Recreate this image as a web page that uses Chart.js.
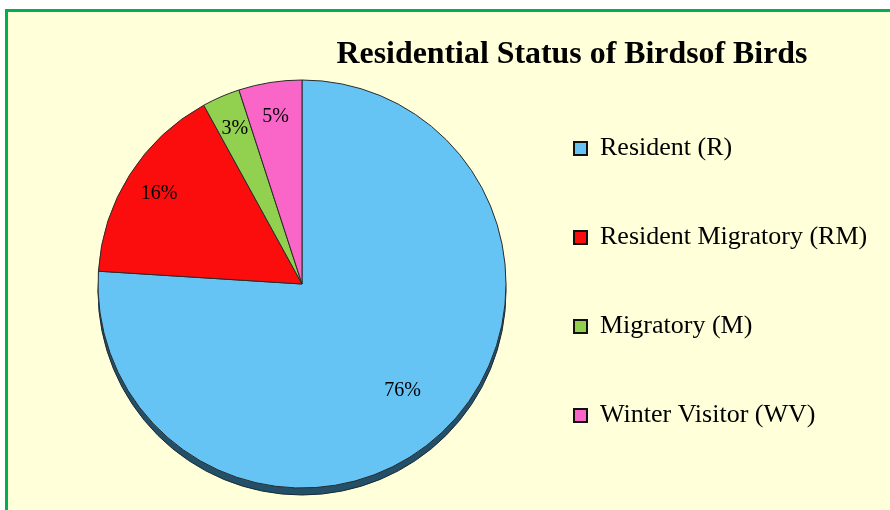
<!DOCTYPE html>
<html>
<head>
<meta charset="utf-8">
<script src="https://cdn.jsdelivr.net/npm/chart.js@4"></script>
<style>
  html, body { margin: 0; padding: 0; background: #fff; overflow: hidden; }
  #frame { position: absolute; left: 5px; top: 9px; width: 900px; height: 520px; border: 3px solid #00b050; background: #ffffd9; box-sizing: border-box; }
  #chart { position: absolute; left: 0; top: 0; }
</style>
</head>
<body>
<div id="frame"></div>
<canvas id="chart" width="890" height="510"></canvas>
<script>
// Chart data
const categories = ['Resident (R)', 'Resident Migratory (RM)', 'Migratory (M)', 'Winter Visitor (WV)'];
const percentages = [76, 16, 3, 5];
const sliceColors = ['#66c4f4', '#fb0d0d', '#92d050', '#f966c8'];
const chartTitle = 'Residential Status of Birdsof Birds';

// Title drawn slightly condensed, like the original
const titlePlugin = {
    id: 'titlePlugin',
    afterDraw(chart) {
        const ctx = chart.ctx;
        ctx.save();
        ctx.font = 'bold 32px "Liberation Serif", "Times New Roman", serif';
        ctx.fillStyle = '#000';
        ctx.textBaseline = 'alphabetic';
        const w = ctx.measureText(chartTitle).width;
        const sx = Math.min(1, 471 / w);
        ctx.translate(572, 63);
        ctx.scale(sx, 1);
        ctx.textAlign = 'center';
        ctx.fillText(chartTitle, 0, 0);
        ctx.restore();
    }
};

// Dark rim under the pie (3D edge look)
const rimPlugin = {
    id: 'rimPlugin',
    beforeDatasetsDraw(chart) {
        const arc = chart.getDatasetMeta(0).data[0];
        if (!arc) return;
        const { x, y, outerRadius } = arc.getProps(['x', 'y', 'outerRadius'], true);
        const ctx = chart.ctx;
        ctx.save();
        ctx.beginPath();
        ctx.arc(x, y + 7, outerRadius, 0, Math.PI * 2);
        ctx.fillStyle = '#244f68';
        ctx.fill();
        ctx.lineWidth = 1;
        ctx.strokeStyle = '#1a2a33';
        ctx.stroke();
        ctx.restore();
    }
};

// Percentage labels inside slices
const sliceLabels = {
    id: 'sliceLabels',
    afterDatasetsDraw(chart) {
        const ctx = chart.ctx;
        const meta = chart.getDatasetMeta(0);
        ctx.save();
        ctx.font = '20px "Liberation Serif", "Times New Roman", serif';
        ctx.fillStyle = '#000';
        ctx.textAlign = 'center';
        ctx.textBaseline = 'middle';
        meta.data.forEach((arc, i) => {
            const p = arc.getProps(['x', 'y', 'startAngle', 'endAngle', 'outerRadius'], true);
            const mid = (p.startAngle + p.endAngle) / 2;
            const f = percentages[i] > 50 ? 0.72 : 0.83;
            const tx = p.x + Math.cos(mid) * p.outerRadius * f;
            const ty = p.y + Math.sin(mid) * p.outerRadius * f;
            ctx.fillText(percentages[i] + '%', tx, ty);
        });
        ctx.restore();
    }
};

new Chart(document.getElementById('chart'), {
    type: 'pie',
    data: {
        labels: categories,
        datasets: [{
            data: percentages,
            backgroundColor: sliceColors,
            borderColor: '#2b2b2b',
            borderWidth: 1,
            radius: 204
        }]
    },
    options: {
        responsive: false,
        devicePixelRatio: 1,
        animation: false,
        events: [],
        layout: {
            padding: { left: 93, top: 58, bottom: 0, right: 19 }
        },
        plugins: {
            title: { display: false },
            tooltip: { enabled: false },
            legend: {
                position: 'right',
                align: 'start',
                maxWidth: 360,
                // empty legend title only used as a small top spacer
                title: { display: true, text: ' ', font: { size: 12 }, padding: 0 },
                labels: {
                    boxWidth: 13,
                    boxHeight: 13,
                    padding: 63,
                    color: '#000',
                    font: { family: '"Liberation Serif", "Times New Roman", serif', size: 26 },
                    generateLabels(chart) {
                        return Chart.overrides.pie.plugins.legend.labels.generateLabels(chart)
                            .map(l => ({ ...l, lineWidth: 2, strokeStyle: '#111' }));
                    }
                }
            }
        }
    },
    plugins: [rimPlugin, sliceLabels, titlePlugin]
});
</script>
</body>
</html>
